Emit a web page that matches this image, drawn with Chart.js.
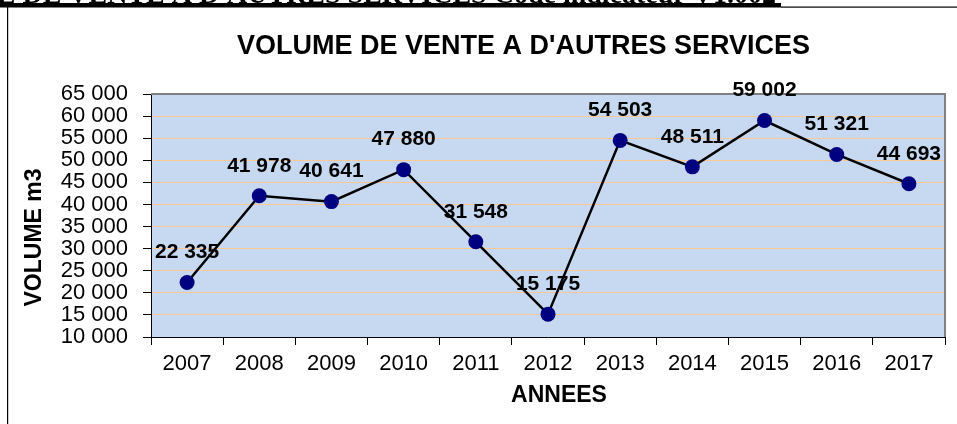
<!DOCTYPE html>
<html>
<head>
<meta charset="utf-8">
<script src="https://cdn.jsdelivr.net/npm/chart.js@4.4.1/dist/chart.umd.min.js"></script>
<style>
  html, body { margin:0; padding:0; background:#fff; }
  #wrap { position:relative; width:957px; height:424px; }
</style>
</head>
<body>
<div id="wrap"><canvas id="chart" width="957" height="424"></canvas></div>
<script>
// data
const years  = ['2007','2008','2009','2010','2011','2012','2013','2014','2015','2016','2017'];
const volume = [22335, 41978, 40641, 47880, 31548, 15175, 54503, 48511, 59002, 51321, 44693];
const yMin = 10000, yMax = 65000, yStep = 5000;

const chartTitle = "VOLUME DE VENTE A D'AUTRES SERVICES";
const xTitle = 'ANNEES';
const yTitle = 'VOLUME m3';
const headerText = "VOLUME DE VENTE A D'AUTRES SERVICES Code indicateur V1.002";

const fmt = v => String(v).replace(/\B(?=(\d{3})+(?!\d))/g, ' ');

const sans = '"Liberation Sans", Arial, sans-serif';

// page frame, titles, plot background and value labels
const decor = {
  id: 'decor',
  beforeDraw(chart) {
    const {ctx, chartArea: a} = chart;
    ctx.save();
    ctx.fillStyle = '#fff';
    ctx.fillRect(0, 0, chart.width, chart.height);
    // cut-off document header above the frame
    ctx.fillStyle = '#000';
    ctx.font = 'bold 28px "Liberation Serif", "Times New Roman", serif';
    ctx.textAlign = 'right';
    ctx.textBaseline = 'alphabetic';
    ctx.fillText(headerText, 776, 3);
    ctx.fillRect(0, 3, 781, 4.5);
    ctx.fillRect(781, 6.5, chart.width - 781, 1.2);
    ctx.fillRect(7, 7, 1.2, chart.height - 7);
    // plot background
    ctx.fillStyle = '#C6D9F0';
    ctx.fillRect(a.left, a.top, a.right - a.left, a.bottom - a.top);
    ctx.restore();
  },
  beforeDatasetsDraw(chart) {
    const {ctx, chartArea: a} = chart;
    ctx.save();
    ctx.strokeStyle = '#808080';
    ctx.lineWidth = 2;
    ctx.beginPath();
    ctx.moveTo(a.left, a.top);
    ctx.lineTo(a.right, a.top);
    ctx.lineTo(a.right, a.bottom);
    ctx.stroke();
    ctx.restore();
  },
  afterDatasetsDraw(chart) {
    const {ctx} = chart;
    const meta = chart.getDatasetMeta(0);
    ctx.save();
    ctx.fillStyle = '#000';
    ctx.font = 'bold 21px ' + sans;
    ctx.textAlign = 'center';
    ctx.textBaseline = 'middle';
    meta.data.forEach((pt, i) => {
      ctx.fillText(fmt(volume[i]), pt.x, pt.y - 30);
    });
    ctx.restore();
  },
  afterDraw(chart) {
    const {ctx} = chart;
    ctx.save();
    ctx.fillStyle = '#000';
    ctx.textAlign = 'center';
    ctx.textBaseline = 'middle';
    ctx.font = 'bold 27px ' + sans;
    ctx.fillText(chartTitle, 523.5, 47);
    ctx.font = 'bold 23px ' + sans;
    ctx.fillText(xTitle, 559, 396);
    ctx.translate(34, 237.5);
    ctx.rotate(-Math.PI / 2);
    ctx.fillText(yTitle, 0, 1);
    ctx.restore();
  }
};

new Chart(document.getElementById('chart'), {
  type: 'line',
  data: {
    labels: years,
    datasets: [{
      data: volume,
      borderColor: '#000',
      borderWidth: 2.5,
      pointRadius: 7.5,
      pointHoverRadius: 7.5,
      pointBackgroundColor: '#000080',
      pointBorderColor: '#000080',
      pointBorderWidth: 0,
      tension: 0
    }]
  },
  options: {
    responsive: false,
    animation: false,
    events: [],
    layout: { padding: { left: 0, top: 94, right: 12, bottom: 0 } },
    plugins: { legend: { display: false }, tooltip: { enabled: false }, title: { display: false } },
    scales: {
      x: {
        type: 'category',
        offset: true,
        afterFit: s => { s.height = 87; },
        grid: { offset: true, drawOnChartArea: false, tickLength: 8, tickColor: '#000', tickWidth: 1 },
        border: { color: '#000', width: 1 },
        ticks: { color: '#000', font: { family: sans, size: 22 }, padding: 6, maxRotation: 0, autoSkip: false }
      },
      y: {
        min: yMin,
        max: yMax,
        afterFit: s => { s.width = 151; },
        grid: { color: '#F9C894', lineWidth: 1, tickLength: 8, tickColor: '#000', tickWidth: 1 },
        border: { color: '#000', width: 1 },
        ticks: {
          stepSize: yStep,
          autoSkip: false,
          color: '#000',
          padding: 15,
          font: { family: sans, size: 22, lineHeight: 1 },
          callback: v => fmt(v)
        }
      }
    }
  },
  plugins: [decor]
});
</script>
</body>
</html>
